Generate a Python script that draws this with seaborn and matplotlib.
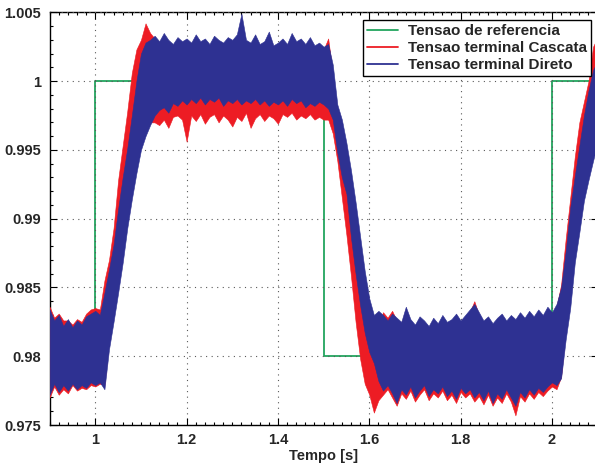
import numpy as np
import matplotlib
matplotlib.use('Agg')
import matplotlib.pyplot as plt
import seaborn as sns
from matplotlib.lines import Line2D
from matplotlib.ticker import MultipleLocator

# --- data (values in p.u., time in s) ---
# reference voltage (step signal)
ref_time = [0.9, 1.0, 1.5, 2.0, 2.1]
ref_value = [0.98, 1.0, 0.98, 1.0, 1.0]

# sample times of the envelopes, one every 10 ms from 0.90 to 2.10 s
env_time = np.round(np.arange(90, 211) / 100, 2)

# "Tensao terminal Cascata" (red) upper / lower envelope
cascata_upper = [
    0.9836, 0.9828, 0.9831, 0.9826, 0.9826, 0.9823, 0.9827, 0.9825, 0.9831, 0.9834,
    0.9835, 0.9834, 0.9855, 0.9870, 0.9893, 0.9928, 0.9953, 0.9978, 1.0006, 1.0023,
    1.0030, 1.0042, 1.0035,
    1.0031, 1.0027, 1.0033, 1.0028, 1.0025, 1.0030, 1.0027, 1.0029, 1.0026, 1.0032,
    1.0027, 1.0029, 1.0025, 1.0031, 1.0028, 1.0026, 1.0030, 1.0028, 1.0032, 1.0030,
    1.0028, 1.0026, 1.0032, 1.0025, 1.0027, 1.0034, 1.0024, 1.0026, 1.0029, 1.0025,
    1.0033, 1.0027, 1.0029, 1.0025, 1.0030, 1.0024, 1.0026, 1.0023, 1.0031,
    1.0005, 0.9975, 0.9960, 0.9940, 0.9915, 0.9890, 0.9865, 0.9842, 0.9826, 0.9818,
    0.9822, 0.9832, 0.9828, 0.9833, 0.9826, 0.9823, 0.9834, 0.9825, 0.9821, 0.9827,
    0.9824, 0.9820, 0.9826, 0.9822, 0.9828, 0.9823, 0.9825, 0.9829, 0.9824, 0.9828,
    0.9832, 0.9840, 0.9830, 0.9824, 0.9827, 0.9822, 0.9826, 0.9829, 0.9824, 0.9828,
    0.9825, 0.9830, 0.9826, 0.9831, 0.9827, 0.9832, 0.9828, 0.9834, 0.9830, 0.9836,
    0.9852, 0.9885, 0.9915, 0.9945, 0.9970, 0.9985, 1.0000, 1.0025, 1.0032,
]
cascata_lower = [
    0.9770, 0.9778, 0.9772, 0.9776, 0.9773, 0.9779, 0.9775, 0.9777, 0.9776, 0.9779,
    0.9778, 0.9780, 0.9779, 0.9812, 0.9835, 0.9860, 0.9885, 0.9908, 0.9930, 0.9948,
    0.9960, 0.9966, 0.9970,
    0.9970, 0.9968, 0.9972, 0.9966, 0.9974, 0.9975, 0.9972, 0.9956, 0.9975, 0.9971,
    0.9976, 0.9969, 0.9974, 0.9976, 0.9970, 0.9975, 0.9972, 0.9967, 0.9974, 0.9971,
    0.9977, 0.9966, 0.9973, 0.9976, 0.9971, 0.9975, 0.9973, 0.9969, 0.9976, 0.9974,
    0.9977, 0.9972, 0.9975, 0.9973, 0.9976, 0.9972, 0.9974, 0.9972, 0.9972,
    0.9962, 0.9942, 0.9915, 0.9888, 0.9858, 0.9825, 0.9798, 0.9780, 0.9772, 0.9759,
    0.9768, 0.9772, 0.9776, 0.9770, 0.9764, 0.9773, 0.9769, 0.9775, 0.9767, 0.9772,
    0.9776, 0.9768, 0.9773, 0.9770, 0.9775, 0.9768, 0.9772, 0.9766, 0.9774, 0.9770,
    0.9773, 0.9767, 0.9771, 0.9765, 0.9772, 0.9764, 0.9770, 0.9766, 0.9773, 0.9767,
    0.9757, 0.9771, 0.9767, 0.9773, 0.9769, 0.9774, 0.9771, 0.9775, 0.9778, 0.9776,
    0.9785, 0.9820, 0.9848, 0.9880, 0.9905, 0.9930, 0.9950, 0.9965, 0.9975,
]

# "Tensao terminal Direto" (blue) upper / lower envelope
direto_upper = [
    0.9834, 0.9826, 0.9830, 0.9822, 0.9827, 0.9821, 0.9826, 0.9823, 0.9829, 0.9831,
    0.9833, 0.9830, 0.9846, 0.9863, 0.9881, 0.9907, 0.9930, 0.9951, 0.9975, 1.0000,
    1.0020, 1.0028, 1.0030,
    1.0033, 1.0029, 1.0035, 1.0030, 1.0027, 1.0032, 1.0029, 1.0031, 1.0028, 1.0034,
    1.0029, 1.0031, 1.0027, 1.0033, 1.0030, 1.0028, 1.0032, 1.0030, 1.0034, 1.0049,
    1.0030, 1.0028, 1.0034, 1.0027, 1.0029, 1.0036, 1.0026, 1.0028, 1.0031, 1.0027,
    1.0035, 1.0029, 1.0031, 1.0027, 1.0032, 1.0026, 1.0028, 1.0025, 1.0027,
    1.0012, 0.9983, 0.9972, 0.9955, 0.9935, 0.9912, 0.9887, 0.9862, 0.9842, 0.9830,
    0.9833, 0.9830, 0.9826, 0.9831, 0.9828, 0.9825, 0.9836, 0.9827, 0.9823, 0.9829,
    0.9826, 0.9822, 0.9828, 0.9824, 0.9830, 0.9825, 0.9827, 0.9831, 0.9826, 0.9830,
    0.9834, 0.9838, 0.9832, 0.9826, 0.9829, 0.9824, 0.9828, 0.9831, 0.9826, 0.9830,
    0.9827, 0.9832, 0.9828, 0.9833, 0.9829, 0.9834, 0.9830, 0.9836, 0.9832, 0.9838,
    0.9850, 0.9876, 0.9908, 0.9931, 0.9953, 0.9975, 0.9993, 1.0008, 1.0015,
]
direto_lower = [
    0.9772, 0.9780, 0.9774, 0.9779, 0.9775, 0.9780, 0.9776, 0.9779, 0.9777, 0.9781,
    0.9779, 0.9781, 0.9776, 0.9805, 0.9825, 0.9846, 0.9868, 0.9893, 0.9914, 0.9933,
    0.9950, 0.9960, 0.9968,
    0.9975, 0.9979, 0.9981, 0.9977, 0.9984, 0.9982, 0.9986, 0.9983, 0.9987, 0.9984,
    0.9988, 0.9983, 0.9987, 0.9985, 0.9988, 0.9982, 0.9986, 0.9984, 0.9987, 0.9983,
    0.9986, 0.9984, 0.9987, 0.9983, 0.9986, 0.9982, 0.9985, 0.9983, 0.9986, 0.9982,
    0.9987, 0.9984, 0.9986, 0.9981, 0.9984, 0.9982, 0.9985, 0.9983, 0.9980,
    0.9972, 0.9948, 0.9930, 0.9918, 0.9886, 0.9860, 0.9837, 0.9817, 0.9803, 0.9795,
    0.9782, 0.9775, 0.9779, 0.9773, 0.9766, 0.9776, 0.9772, 0.9778, 0.9770, 0.9775,
    0.9779, 0.9771, 0.9776, 0.9773, 0.9778, 0.9771, 0.9775, 0.9769, 0.9777, 0.9773,
    0.9776, 0.9770, 0.9774, 0.9768, 0.9775, 0.9766, 0.9773, 0.9769, 0.9776, 0.9770,
    0.9764, 0.9774, 0.9770, 0.9776, 0.9772, 0.9777, 0.9774, 0.9778, 0.9781, 0.9779,
    0.9784, 0.9812, 0.9835, 0.9868, 0.9890, 0.9913, 0.9928, 0.9942, 0.9955,
]

labels = ['Tensao de referencia', 'Tensao terminal Cascata', 'Tensao terminal Direto']
x_ticks = [1.0, 1.2, 1.4, 1.6, 1.8, 2.0]
x_tick_labels = ['1', '1.2', '1.4', '1.6', '1.8', '2']
y_ticks = [0.975, 0.98, 0.985, 0.99, 0.995, 1.0, 1.005]
y_tick_labels = ['0.975', '0.98', '0.985', '0.99', '0.995', '1', '1.005']

green = '#22a55e'
red = '#ed1c24'
blue = '#2e3192'

sns.set_style('ticks')
plt.rcParams['font.family'] = ['Liberation Sans', 'DejaVu Sans']
plt.rcParams['font.weight'] = 'bold'

fig = plt.figure(figsize=(5.95, 4.65), dpi=100)
ax = fig.add_axes([0.0834, 0.086, 0.921, 0.8875])

# reference step
sns.lineplot(x=ref_time, y=ref_value, drawstyle='steps-post', color=green,
             linewidth=1.3, ax=ax, zorder=2)

# noisy terminal voltages drawn as their envelopes
ax.fill_between(env_time, cascata_lower, cascata_upper, color=red, linewidth=0.4,
                edgecolor=red, zorder=3)
ax.fill_between(env_time, direto_lower, direto_upper, color=blue, linewidth=0.4,
                edgecolor=blue, zorder=4)

ax.set_xlim(0.9, 2.1)
ax.set_ylim(0.975, 1.005)
ax.set_xticks(x_ticks)
ax.set_xticklabels(x_tick_labels)
ax.set_yticks(y_ticks)
ax.set_yticklabels(y_tick_labels)
ax.xaxis.set_minor_locator(MultipleLocator(0.02))
ax.yaxis.set_minor_locator(MultipleLocator(0.001))
ax.tick_params(which='both', direction='in', top=True, right=True, labelsize=10.5,
               width=0.8, color='black')
ax.tick_params(which='major', length=5, pad=6)
ax.tick_params(which='minor', length=2.5)
for lab in ax.get_xticklabels() + ax.get_yticklabels():
    lab.set_fontweight('bold')

ax.grid(True, which='major', color='0.35', linestyle=(0, (1, 4)), linewidth=0.8)
ax.set_axisbelow(False)
for sp in ax.spines.values():
    sp.set_linewidth(1.0)
    sp.set_color('black')

ax.set_xlabel('Tempo [s]', fontsize=10.5, fontweight='bold', labelpad=1)
ax.set_ylabel('')

handles = [Line2D([], [], color=c, linewidth=1.3) for c in (green, red, blue)]
leg = ax.legend(handles, labels, loc='upper right', bbox_to_anchor=(0.988, 0.981),
                prop={'weight': 'bold', 'size': 11}, frameon=True, fancybox=False,
                framealpha=1, edgecolor='black', handlelength=2.0, borderpad=0.25,
                labelspacing=0.2, handletextpad=0.7, borderaxespad=0)
leg.get_frame().set_linewidth(1.0)
leg.set_zorder(10)

fig.savefig('out.png', dpi=100)
